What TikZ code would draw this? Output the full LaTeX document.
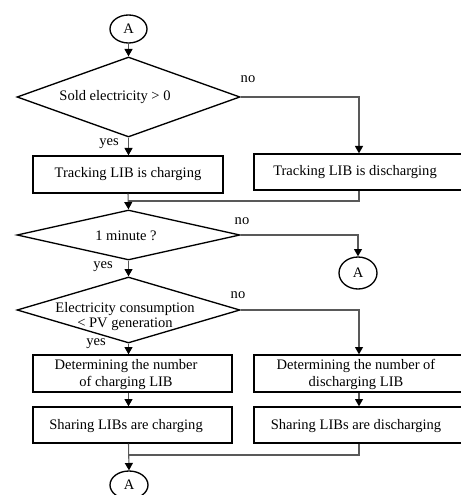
\documentclass[tikz,border=0pt]{standalone}
\usepackage{fontspec}
\setmainfont{Liberation Serif}
\usetikzlibrary{shapes.geometric,arrows.meta}
\def\px{0.75pt}
\tikzset{
  base/.style={draw=black,line width=1pt,inner sep=0pt,font=\fontsize{10.9pt}{12.75pt}\selectfont},
  boxnode/.style={base,rectangle,align=center},
  decision/.style={base,diamond},
  conn/.style={ellipse,base},
  lbl/.style={inner sep=0pt,font=\fontsize{10.9pt}{12.75pt}\selectfont,align=center},
  link/.style={draw=black!65,line width=0.8pt},
  arr/.style={link,-{Triangle[width=6pt,length=5.5pt,fill=black,color=black]}}
}
\begin{document}
\begin{tikzpicture}[x=0.75pt,y=-0.75pt]
\useasboundingbox (0,0) rectangle (460,495);
% connectors (circles)
\node[conn,minimum width=37*\px,minimum height=28*\px] (a1) at (128.5,29) {A};
\node[conn,minimum width=38*\px,minimum height=32*\px] (a2) at (358,273) {A};
\node[conn,minimum width=38*\px,minimum height=28*\px] (a3) at (129,485) {A};
% decisions
\node[decision,minimum width=223*\px,minimum height=80*\px] (d1) at (128.5,97) {};
\node[lbl] (t1) at (115,97) {Sold electricity > 0};
\node[decision,minimum width=223*\px,minimum height=50*\px] (d2) at (128.5,235) {};
\node[lbl] (t2) at (126,236) {1 minute ?};
\node[decision,minimum width=223*\px,minimum height=66*\px] (d3) at (128.5,310) {};
\node[lbl] (t3) at (125,316.5) {Electricity consumption\\[-1pt]< PV generation};
% boxes
\node[boxnode,minimum width=190*\px,minimum height=37*\px] (l1) at (128,174.5) {Tracking LIB is charging};
\node[boxnode,minimum width=210*\px,minimum height=36*\px] (r1) at (359,172) {};
\node[lbl] (tr1) at (355,172) {Tracking LIB is discharging};
\node[boxnode,minimum width=199*\px,minimum height=37*\px] (l3) at (132.5,373.5) {};
\node[lbl] (tl3) at (126,374.5) {Determining the number\\of charging LIB};
\node[boxnode,minimum width=210*\px,minimum height=37*\px] (r3) at (359,373.5) {};
\node[lbl] (tr3) at (356,374.5) {Determining the number of\\discharging LIB};
\node[boxnode,minimum width=199*\px,minimum height=36*\px] (l4) at (132.5,425) {};
\node[lbl] (tl4) at (126,426) {Sharing LIBs are charging};
\node[boxnode,minimum width=210*\px,minimum height=36*\px] (r4) at (359,425) {};
\node[lbl] (tr4) at (356,426) {Sharing LIBs are discharging};
% labels
\node[lbl] (no1) at (248,79) {no};
\node[lbl] (no2) at (242,221) {no};
\node[lbl] (no3) at (238,295) {no};
\node[lbl] (y1) at (109,144) {yes};
\node[lbl] (y2) at (103,267) {yes};
\node[lbl] (y3) at (96,344) {yes};
% merge points
\coordinate (m1) at (128,201);
\coordinate (m2) at (128,455);
% links
\draw[arr] (a1.south) -- (d1.north);
\draw[arr] (d1.south) -- (d1.south |- l1.north);
\draw[arr] (d1.east) -| (r1.north);
\draw[link] (r1.south) |- (m1);
\draw[arr] (l1.south) -- (d2.north);
\draw[arr] (d2.east) -| (a2.north);
\draw[arr] (d2.south) -- (d3.north);
\draw[arr] (d3.east) -| (r3.north);
\draw[arr] (d3.south) -- (d3.south |- l3.north);
\draw[arr] (d3.south |- l3.south) -- (d3.south |- l4.north);
\draw[arr] (r3.south) -- (r4.north);
\draw[link] (r4.south) |- (m2);
\draw[arr] (d3.south |- l4.south) -- (a3.north);
\end{tikzpicture}
\end{document}
